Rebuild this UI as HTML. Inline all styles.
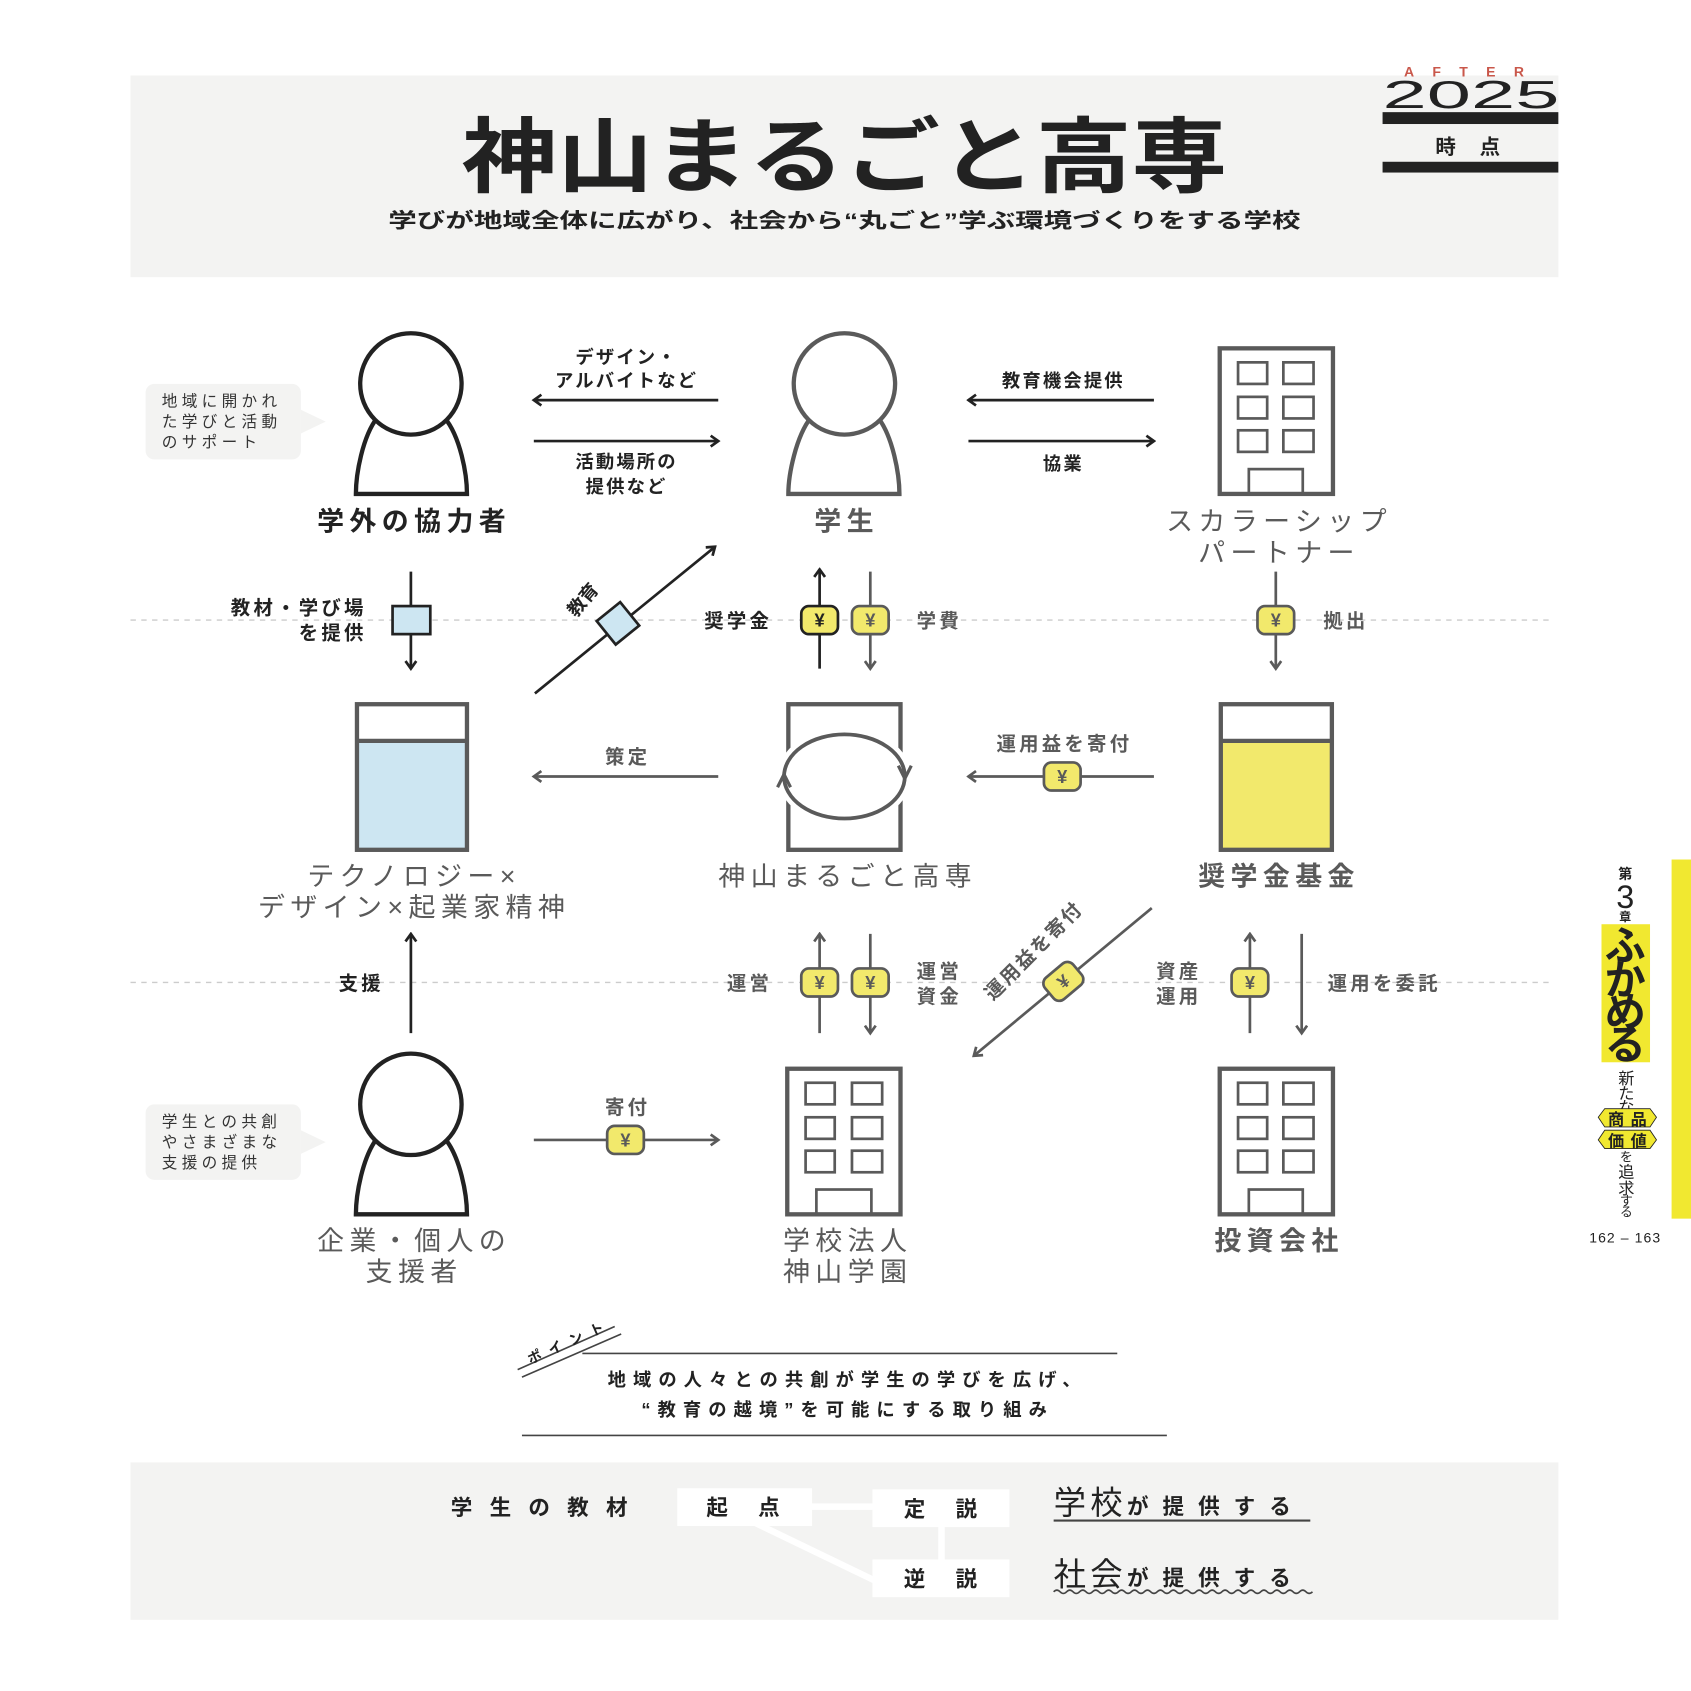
<!DOCTYPE html>
<html><head><meta charset="utf-8"><style>
html,body{margin:0;padding:0;background:#fff;}
svg{display:block;}
text{font-family:"Liberation Sans","Noto Sans CJK JP",sans-serif;}
</style></head><body>
<svg width="1691" height="1691" viewBox="0 0 1568 1568" xmlns="http://www.w3.org/2000/svg">
<defs>
<marker id="ak" viewBox="0 0 12 12" refX="10" refY="6" markerWidth="12" markerHeight="12" markerUnits="userSpaceOnUse" orient="auto"><path d="M3,1 L10,6 L3,11" fill="none" stroke="#222" stroke-width="2.5"/></marker>
<marker id="ag" viewBox="0 0 12 12" refX="10" refY="6" markerWidth="12" markerHeight="12" markerUnits="userSpaceOnUse" orient="auto"><path d="M3,1 L10,6 L3,11" fill="none" stroke="#5a5a5a" stroke-width="2.5"/></marker>
</defs>

<!-- header -->
<rect x="121" y="70" width="1324" height="187" fill="#f3f3f2"/>
<text x="783" y="172" text-anchor="middle" font-size="76" font-weight="bold" fill="#222" textLength="710" lengthAdjust="spacingAndGlyphs">神山まるごと高専</text>
<text x="783" y="211" text-anchor="middle" font-size="19" font-weight="bold" fill="#222" textLength="846" lengthAdjust="spacingAndGlyphs">学びが地域全体に広がり、社会から“丸ごと”学ぶ環境づくりをする学校</text>
<text x="1366" y="71" text-anchor="middle" font-size="13" font-weight="bold" fill="#c9574a" letter-spacing="17">AFTER</text>
<text x="1364" y="100" text-anchor="middle" font-size="36" fill="#222" textLength="164" lengthAdjust="spacingAndGlyphs">2025</text>
<rect x="1282" y="104" width="163" height="11" fill="#222"/>
<text x="1372" y="143" text-anchor="middle" font-size="19" font-weight="bold" fill="#222" letter-spacing="22">時点</text>
<rect x="1282" y="150" width="163" height="10" fill="#222"/>

<!-- side tab -->
<rect x="1550" y="797" width="18" height="333" fill="#f1e830"/>
<text x="1507" y="815" text-anchor="middle" font-size="13" font-weight="bold" fill="#222">第</text>
<text x="1507" y="842" text-anchor="middle" font-size="30" fill="#222">3</text>
<text x="1507" y="854" text-anchor="middle" font-size="11" font-weight="bold" fill="#222">章</text>
<rect x="1485" y="857" width="45" height="128" fill="#f1e830"/>
<text x="1507" y="890" text-anchor="middle" font-size="38" font-weight="bold" fill="#222">ふ</text>
<text x="1507" y="922" text-anchor="middle" font-size="38" font-weight="bold" fill="#222">か</text>
<text x="1507" y="952" text-anchor="middle" font-size="38" font-weight="bold" fill="#222">め</text>
<text x="1507" y="982" text-anchor="middle" font-size="38" font-weight="bold" fill="#222">る</text>
<text x="1508" y="1005" text-anchor="middle" font-size="15" fill="#222">新</text>
<text x="1508" y="1019" text-anchor="middle" font-size="15" fill="#222">た</text>
<text x="1508" y="1032" text-anchor="middle" font-size="15" fill="#222">な</text>
<polygon points="1482,1036 1488,1028 1530,1028 1536,1036 1530,1045 1488,1045" fill="#f1e830" stroke="#222" stroke-width="0.8"/>
<text x="1512" y="1043" text-anchor="middle" font-size="15" font-weight="bold" fill="#222" letter-spacing="6">商品</text>
<polygon points="1482,1057 1488,1048 1530,1048 1536,1057 1530,1065 1488,1065" fill="#f1e830" stroke="#222" stroke-width="0.8"/>
<text x="1512" y="1063" text-anchor="middle" font-size="15" font-weight="bold" fill="#222" letter-spacing="6">価値</text>
<text x="1508" y="1077" text-anchor="middle" font-size="12" fill="#222">を</text>
<text x="1508" y="1092" text-anchor="middle" font-size="15" fill="#222">追</text>
<text x="1508" y="1107" text-anchor="middle" font-size="15" fill="#222">求</text>
<text x="1508" y="1118" text-anchor="middle" font-size="12" fill="#222">す</text>
<text x="1508" y="1128" text-anchor="middle" font-size="12" fill="#222">る</text>
<text x="1507" y="1152" text-anchor="middle" font-size="13" fill="#222" letter-spacing="1">162 – 163</text>

<!-- dashed guides -->
<line x1="121" y1="575" x2="1440" y2="575" stroke="#ccc" stroke-width="1.3" stroke-dasharray="5 5"/>
<line x1="121" y1="911" x2="1440" y2="911" stroke="#ccc" stroke-width="1.3" stroke-dasharray="5 5"/>

<!-- speech bubbles -->
<rect x="135" y="356" width="144" height="70" rx="8" fill="#f3f3f2"/>
<polygon points="279,380 302,391 279,402" fill="#f3f3f2"/>
<text font-size="14.5" fill="#333" letter-spacing="4"><tspan x="150" y="377">地域に開かれ</tspan><tspan x="150" y="396">た学びと活動</tspan><tspan x="150" y="415">のサポート</tspan></text>
<rect x="135" y="1024" width="144" height="70" rx="8" fill="#f3f3f2"/>
<polygon points="279,1048 302,1059 279,1070" fill="#f3f3f2"/>
<text font-size="14.5" fill="#333" letter-spacing="4"><tspan x="150" y="1045">学生との共創</tspan><tspan x="150" y="1064">やさまざまな</tspan><tspan x="150" y="1083">支援の提供</tspan></text>

<!-- persons -->
<g fill="#fff" stroke="#222" stroke-width="4">
<path d="M350,387 C336,405 330,440 330,458 L433,458 C433,440 427,405 412,387"/>
<circle cx="381" cy="356" r="47"/>
<path d="M350,1055 C336,1073 330,1108 330,1126 L433,1126 C433,1108 427,1073 412,1055"/>
<circle cx="381" cy="1024" r="47"/>
</g>
<g fill="#fff" stroke="#5a5a5a" stroke-width="4">
<path d="M752,387 C738,405 731,440 731,458 L834,458 C834,440 828,405 814,387"/>
<circle cx="783" cy="356" r="47"/>
</g>

<!-- buildings -->
<g fill="none" stroke="#5a5a5a" stroke-width="4">
<rect x="1131" y="323" width="105" height="135"/>
<rect x="1148" y="336" width="27" height="20" stroke-width="2.5"/><rect x="1190" y="336" width="28" height="20" stroke-width="2.5"/>
<rect x="1148" y="368" width="27" height="20" stroke-width="2.5"/><rect x="1190" y="368" width="28" height="20" stroke-width="2.5"/>
<rect x="1148" y="399" width="27" height="20" stroke-width="2.5"/><rect x="1190" y="399" width="28" height="20" stroke-width="2.5"/>
<rect x="1158" y="435" width="50" height="23" stroke-width="2.5"/>
<rect x="730" y="991" width="105" height="135"/>
<rect x="747" y="1004" width="27" height="20" stroke-width="2.5"/><rect x="790" y="1004" width="28" height="20" stroke-width="2.5"/>
<rect x="747" y="1036" width="27" height="20" stroke-width="2.5"/><rect x="790" y="1036" width="28" height="20" stroke-width="2.5"/>
<rect x="747" y="1067" width="27" height="20" stroke-width="2.5"/><rect x="790" y="1067" width="28" height="20" stroke-width="2.5"/>
<rect x="757" y="1103" width="51" height="23" stroke-width="2.5"/>
<rect x="1131" y="991" width="105" height="135"/>
<rect x="1148" y="1004" width="27" height="20" stroke-width="2.5"/><rect x="1190" y="1004" width="28" height="20" stroke-width="2.5"/>
<rect x="1148" y="1036" width="27" height="20" stroke-width="2.5"/><rect x="1190" y="1036" width="28" height="20" stroke-width="2.5"/>
<rect x="1148" y="1067" width="27" height="20" stroke-width="2.5"/><rect x="1190" y="1067" width="28" height="20" stroke-width="2.5"/>
<rect x="1158" y="1103" width="50" height="23" stroke-width="2.5"/>
</g>

<!-- row2 containers -->
<rect x="331" y="687" width="102" height="101" fill="#cde6f2"/>
<g fill="none" stroke="#5a5a5a" stroke-width="4"><rect x="331" y="653" width="102" height="135"/><line x1="331" y1="687" x2="433" y2="687"/></g>
<rect x="1132" y="687" width="103" height="101" fill="#f2e96c"/>
<g fill="none" stroke="#5a5a5a" stroke-width="4"><rect x="1132" y="653" width="103" height="135"/><line x1="1132" y1="687" x2="1235" y2="687"/></g>
<rect x="731" y="653" width="104" height="135" fill="none" stroke="#5a5a5a" stroke-width="4"/>
<ellipse cx="783" cy="720" rx="56" ry="39" fill="#fff" stroke="#fff" stroke-width="12"/>
<ellipse cx="783" cy="720" rx="56" ry="39" fill="none" stroke="#5a5a5a" stroke-width="3.5"/>
<path d="M833,710 L839,722 L845,710" fill="none" stroke="#5a5a5a" stroke-width="3"/>
<path d="M721,730 L727,718 L733,730" fill="none" stroke="#5a5a5a" stroke-width="3"/>

<!-- node labels -->
<g font-size="25" text-anchor="middle" letter-spacing="5">
<text x="384" y="492" font-weight="bold" fill="#222">学外の協力者</text>
<text x="785" y="492" fill="#5a5a5a" font-weight="bold">学生</text>
<text x="1186" y="492" fill="#5a5a5a">スカラーシップ</text>
<text x="1186" y="521" fill="#5a5a5a">パートナー</text>
<text x="384" y="821" fill="#5a5a5a">テクノロジー×</text>
<text x="384" y="850" fill="#5a5a5a">デザイン×起業家精神</text>
<text x="786" y="821" fill="#5a5a5a">神山まるごと高専</text>
<text x="1186" y="821" fill="#5a5a5a" font-weight="bold">奨学金基金</text>
<text x="384" y="1159" fill="#5a5a5a">企業・個人の</text>
<text x="384" y="1188" fill="#5a5a5a">支援者</text>
<text x="786" y="1159" fill="#5a5a5a">学校法人</text>
<text x="786" y="1188" fill="#5a5a5a">神山学園</text>
<text x="1186" y="1159" fill="#5a5a5a" font-weight="bold">投資会社</text>
</g>

<!-- row1 arrows -->
<g stroke-width="2.5" fill="none">
<line x1="666" y1="371" x2="495" y2="371" stroke="#222" marker-end="url(#ak)"/>
<line x1="495" y1="409" x2="666" y2="409" stroke="#222" marker-end="url(#ak)"/>
<line x1="1070" y1="371" x2="898" y2="371" stroke="#222" marker-end="url(#ak)"/>
<line x1="898" y1="409" x2="1070" y2="409" stroke="#222" marker-end="url(#ak)"/>
</g>
<g font-size="17" font-weight="bold" fill="#222" text-anchor="middle" letter-spacing="2">
<text x="581" y="337">デザイン・</text>
<text x="581" y="359">アルバイトなど</text>
<text x="581" y="434">活動場所の</text>
<text x="581" y="457">提供など</text>
<text x="986" y="359">教育機会提供</text>
<text x="986" y="436">協業</text>
</g>

<!-- row1.5 -->
<g stroke-width="2.5" fill="none">
<line x1="381" y1="530" x2="381" y2="620" stroke="#222" marker-end="url(#ak)"/>
<line x1="496" y1="643" x2="663" y2="507" stroke="#222" marker-end="url(#ak)"/>
<line x1="760" y1="620" x2="760" y2="528" stroke="#222" marker-end="url(#ak)"/>
<line x1="807" y1="530" x2="807" y2="620" stroke="#5a5a5a" marker-end="url(#ag)"/>
<line x1="1183" y1="530" x2="1183" y2="620" stroke="#5a5a5a" marker-end="url(#ag)"/>
</g>
<rect x="364" y="562" width="35" height="26" fill="#cde6f2" stroke="#222" stroke-width="2.5"/>
<rect x="559" y="564" width="28" height="28" fill="#cde6f2" stroke="#222" stroke-width="2.5" transform="rotate(-39 573 578)"/>
<text x="545" y="560" font-size="17" font-weight="bold" fill="#222" text-anchor="middle" transform="rotate(-50 545 560)">教育</text>
<g font-size="18" font-weight="bold" fill="#222" letter-spacing="3">
<text x="340" y="570" text-anchor="end">教材・学び場</text>
<text x="340" y="593" text-anchor="end">を提供</text>
<text x="716" y="582" text-anchor="end">奨学金</text>
</g>
<g font-size="18" fill="#5a5a5a" font-weight="bold" letter-spacing="3">
<text x="850" y="582">学費</text>
<text x="1227" y="582">拠出</text>
<text x="716" y="918" text-anchor="end">運営</text>
<text x="850" y="907">運営</text>
<text x="850" y="930">資金</text>
<text x="1072" y="907">資産</text>
<text x="1072" y="930">運用</text>
<text x="1231" y="918">運用を委託</text>
<text x="335" y="918" text-anchor="middle" fill="#222">支援</text>
<text x="582" y="708" text-anchor="middle">策定</text>
<text x="987" y="696" text-anchor="middle">運用益を寄付</text>
<text x="582" y="1033" text-anchor="middle">寄付</text>
</g>

<!-- row2 arrows -->
<g stroke-width="2.5" fill="none" stroke="#5a5a5a">
<line x1="666" y1="720" x2="495" y2="720" marker-end="url(#ag)"/>
<line x1="1070" y1="720" x2="898" y2="720" marker-end="url(#ag)"/>
<line x1="381" y1="958" x2="381" y2="866" stroke="#222" marker-end="url(#ak)"/>
<line x1="760" y1="958" x2="760" y2="866" marker-end="url(#ag)"/>
<line x1="807" y1="866" x2="807" y2="958" marker-end="url(#ag)"/>
<line x1="1068" y1="842" x2="903" y2="979" marker-end="url(#ag)"/>
<line x1="1159" y1="958" x2="1159" y2="866" marker-end="url(#ag)"/>
<line x1="1207" y1="866" x2="1207" y2="958" marker-end="url(#ag)"/>
<line x1="495" y1="1057" x2="666" y2="1057" marker-end="url(#ag)"/>
</g>
<text x="963" y="886" font-size="18" font-weight="bold" fill="#5a5a5a" text-anchor="middle" letter-spacing="2" transform="rotate(-45 963 886)">運用益を寄付</text>

<!-- yen badges -->
<g font-size="17" font-weight="bold" text-anchor="middle">
<rect x="743" y="562" width="34" height="26" rx="7" fill="#f2e96c" stroke="#222" stroke-width="2.5"/><text x="760" y="581" fill="#222">¥</text>
<rect x="790" y="562" width="34" height="26" rx="7" fill="#f2e96c" stroke="#5a5a5a" stroke-width="2.5"/><text x="807" y="581" fill="#5a5a5a">¥</text>
<rect x="1166" y="562" width="34" height="26" rx="7" fill="#f2e96c" stroke="#5a5a5a" stroke-width="2.5"/><text x="1183" y="581" fill="#5a5a5a">¥</text>
<rect x="968" y="707" width="34" height="26" rx="7" fill="#f2e96c" stroke="#5a5a5a" stroke-width="2.5"/><text x="985" y="726" fill="#5a5a5a">¥</text>
<rect x="743" y="898" width="34" height="26" rx="7" fill="#f2e96c" stroke="#5a5a5a" stroke-width="2.5"/><text x="760" y="917" fill="#5a5a5a">¥</text>
<rect x="790" y="898" width="34" height="26" rx="7" fill="#f2e96c" stroke="#5a5a5a" stroke-width="2.5"/><text x="807" y="917" fill="#5a5a5a">¥</text>
<rect x="1142" y="898" width="34" height="26" rx="7" fill="#f2e96c" stroke="#5a5a5a" stroke-width="2.5"/><text x="1159" y="917" fill="#5a5a5a">¥</text>
<rect x="563" y="1044" width="34" height="26" rx="7" fill="#f2e96c" stroke="#5a5a5a" stroke-width="2.5"/><text x="580" y="1063" fill="#5a5a5a">¥</text>
<g transform="rotate(-40 986 910)"><rect x="969" y="897" width="34" height="26" rx="7" fill="#f2e96c" stroke="#5a5a5a" stroke-width="2.5"/><text x="986" y="916" fill="#5a5a5a">¥</text></g>
</g>

<!-- point -->
<line x1="480" y1="1270" x2="570" y2="1230" stroke="#444" stroke-width="1.5"/>
<line x1="484" y1="1277" x2="576" y2="1237" stroke="#444" stroke-width="1.5"/>
<text x="530" y="1248" font-size="13" font-weight="bold" fill="#222" text-anchor="middle" letter-spacing="8" transform="rotate(-24 530 1248)">ポイント</text>
<line x1="540" y1="1255" x2="1036" y2="1255" stroke="#444" stroke-width="1.5"/>
<g font-size="17" font-weight="bold" fill="#222" text-anchor="middle" letter-spacing="6.5">
<text x="786" y="1285">地域の人々との共創が学生の学びを広げ、</text>
<text x="786" y="1313">“教育の越境”を可能にする取り組み</text>
</g>
<line x1="484" y1="1331" x2="1082" y2="1331" stroke="#444" stroke-width="1.5"/>

<!-- bottom band -->
<rect x="121" y="1356" width="1324" height="146" fill="#f3f3f2"/>
<g stroke="#fff" stroke-width="6" fill="none">
<line x1="750" y1="1397" x2="812" y2="1397"/>
<line x1="873" y1="1414" x2="873" y2="1448"/>
<line x1="700" y1="1412" x2="812" y2="1466"/>
</g>
<rect x="628" y="1380" width="125" height="35" fill="#fff"/>
<rect x="809" y="1381" width="127" height="35" fill="#fff"/>
<rect x="809" y="1446" width="127" height="35" fill="#fff"/>
<g font-size="20" font-weight="bold" fill="#222">
<text x="418" y="1405" letter-spacing="16">学生の教材</text>
<text x="703" y="1405" text-anchor="middle" letter-spacing="28">起点</text>
<text x="886" y="1406" text-anchor="middle" letter-spacing="28">定説</text>
<text x="886" y="1471" text-anchor="middle" letter-spacing="28">逆説</text>
</g>
<text x="977" y="1404" fill="#222"><tspan font-size="30" letter-spacing="4">学校</tspan><tspan font-size="20" font-weight="bold" letter-spacing="13">が提供する</tspan></text>
<line x1="977" y1="1410" x2="1215" y2="1410" stroke="#444" stroke-width="2"/>
<text x="977" y="1470" fill="#222"><tspan font-size="30" letter-spacing="4">社会</tspan><tspan font-size="20" font-weight="bold" letter-spacing="13">が提供する</tspan></text>
<path d="M977,1476 q3,-3 6,0 t6,0 t6,0 t6,0 t6,0 t6,0 t6,0 t6,0 t6,0 t6,0 t6,0 t6,0 t6,0 t6,0 t6,0 t6,0 t6,0 t6,0 t6,0 t6,0 t6,0 t6,0 t6,0 t6,0 t6,0 t6,0 t6,0 t6,0 t6,0 t6,0 t6,0 t6,0 t6,0 t6,0 t6,0 t6,0 t6,0 t6,0 t6,0 t6,0" fill="none" stroke="#444" stroke-width="1.5"/>
</svg>
</body></html>
